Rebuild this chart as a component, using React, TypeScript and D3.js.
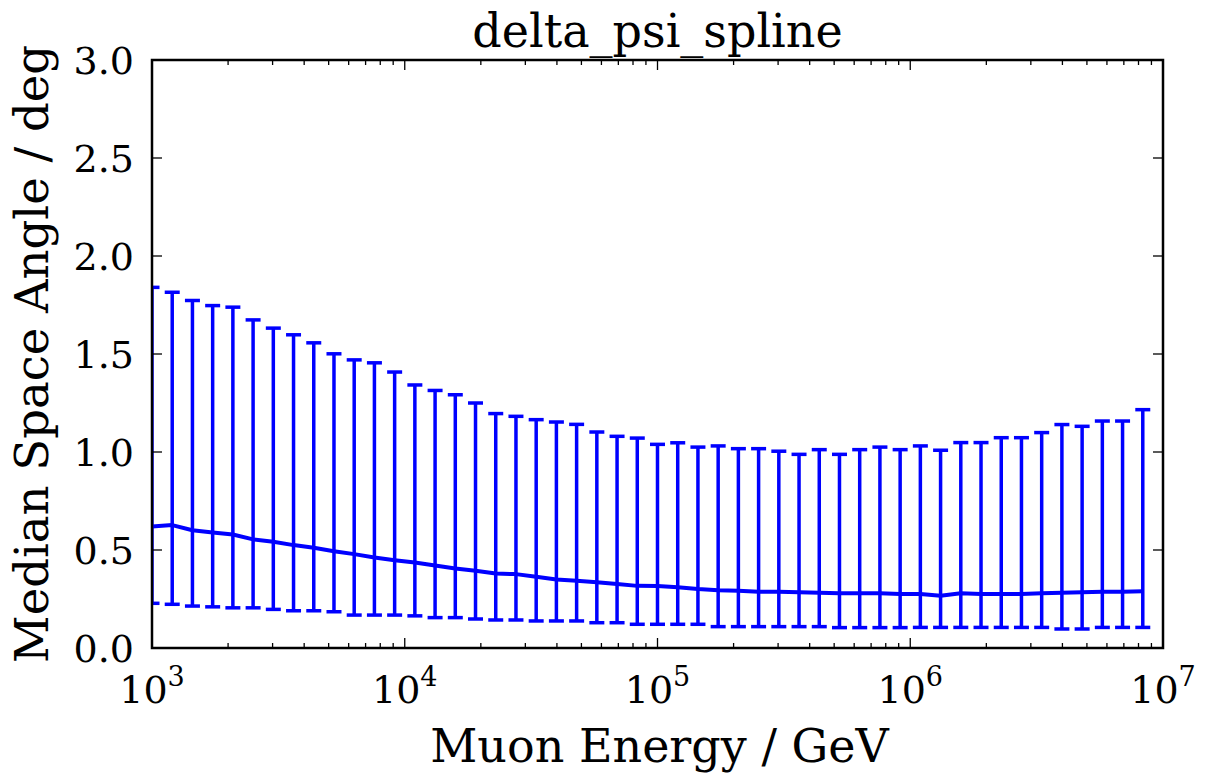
import React from "react";
import * as d3 from "d3";

const logEnergy = [
  3.00, 3.08, 3.16, 3.24, 3.32, 3.40, 3.48, 3.56, 3.64, 3.72,
  3.80, 3.88, 3.96, 4.04, 4.12, 4.20, 4.28, 4.36, 4.44, 4.52,
  4.60, 4.68, 4.76, 4.84, 4.92, 5.00, 5.08, 5.16, 5.24, 5.32,
  5.40, 5.48, 5.56, 5.64, 5.72, 5.80, 5.88, 5.96, 6.04, 6.12,
  6.20, 6.28, 6.36, 6.44, 6.52, 6.60, 6.68, 6.76, 6.84, 6.92,
];

const medianAngle = [
  0.620, 0.627, 0.601, 0.589, 0.579, 0.554, 0.542, 0.525, 0.511, 0.494,
  0.479, 0.462, 0.448, 0.436, 0.421, 0.406, 0.394, 0.380, 0.377, 0.363,
  0.350, 0.343, 0.335, 0.326, 0.317, 0.316, 0.310, 0.301, 0.295, 0.292,
  0.287, 0.287, 0.284, 0.282, 0.279, 0.279, 0.279, 0.275, 0.275, 0.267,
  0.279, 0.275, 0.275, 0.275, 0.279, 0.282, 0.284, 0.287, 0.287, 0.290,
];

const upperAngle = [
  1.840, 1.815, 1.773, 1.747, 1.739, 1.674, 1.632, 1.598, 1.557, 1.501,
  1.470, 1.455, 1.408, 1.342, 1.314, 1.292, 1.250, 1.196, 1.182, 1.165,
  1.153, 1.141, 1.102, 1.080, 1.071, 1.039, 1.047, 1.025, 1.031, 1.017,
  1.017, 1.004, 0.988, 1.012, 0.988, 1.012, 1.025, 1.012, 1.031, 1.009,
  1.048, 1.048, 1.073, 1.073, 1.099, 1.140, 1.131, 1.158, 1.158, 1.216,
];

const lowerAngle = [
  0.228, 0.223, 0.214, 0.210, 0.205, 0.205, 0.197, 0.190, 0.190, 0.185,
  0.168, 0.168, 0.168, 0.164, 0.155, 0.155, 0.148, 0.143, 0.143, 0.138,
  0.138, 0.138, 0.129, 0.129, 0.121, 0.121, 0.121, 0.121, 0.109, 0.109,
  0.109, 0.109, 0.109, 0.109, 0.104, 0.104, 0.104, 0.104, 0.105, 0.105,
  0.105, 0.105, 0.105, 0.105, 0.105, 0.097, 0.097, 0.105, 0.105, 0.105,
];

const yTicks = [0.0, 0.5, 1.0, 1.5, 2.0, 2.5, 3.0];
const xMajorExponents = [3, 4, 5, 6, 7];
const minorMultipliers = [2, 3, 4, 5, 6, 7, 8, 9];

const W = 1205;
const H = 773;
const left = 152;
const right = 1163;
const top = 60;
const bottom = 648;
const FONT = "'DejaVu Serif', serif";
const BLUE = "#0000ff";

export default function App() {
  const x = d3.scaleLog().domain([1e3, 1e7]).range([left, right]);
  const y = d3.scaleLinear().domain([0, 3]).range([bottom, top]);

  const energies = logEnergy.map((l) => Math.pow(10, l));
  const pts = energies.map((e, i) => ({
    e,
    m: medianAngle[i],
    hi: upperAngle[i],
    lo: lowerAngle[i],
  }));

  const line = d3
    .line<{ e: number; m: number }>()
    .x((d) => x(d.e))
    .y((d) => y(d.m));

  const minorTicks: number[] = [];
  for (let k = 3; k < 7; k++) {
    for (const m of minorMultipliers) minorTicks.push(m * Math.pow(10, k));
  }

  const capHalf = 7.5;
  const majorLen = 10;
  const minorLen = 5;

  return (
    <svg
      width={W}
      height={H}
      style={{ position: "absolute", left: 0, top: 0, background: "#fff" }}
    >
      <defs>
        <clipPath id="plotclip">
          <rect x={left} y={top} width={right - left} height={bottom - top} />
        </clipPath>
      </defs>
      <rect x={0} y={0} width={W} height={H} fill="#fff" />

      <g clipPath="url(#plotclip)">
        {pts.map((p, i) => (
          <g key={i} stroke={BLUE} strokeWidth={3.5}>
            <line x1={x(p.e)} x2={x(p.e)} y1={y(p.lo)} y2={y(p.hi)} />
            <line x1={x(p.e) - capHalf} x2={x(p.e) + capHalf} y1={y(p.hi)} y2={y(p.hi)} />
            <line x1={x(p.e) - capHalf} x2={x(p.e) + capHalf} y1={y(p.lo)} y2={y(p.lo)} />
          </g>
        ))}
        <path d={line(pts) || ""} fill="none" stroke={BLUE} strokeWidth={4} strokeLinejoin="round" />
      </g>

      {/* ticks */}
      <g stroke="#000" strokeWidth={1.3}>
        {yTicks.map((t) => (
          <g key={"y" + t}>
            <line x1={left} x2={left + majorLen} y1={y(t)} y2={y(t)} />
            <line x1={right} x2={right - majorLen} y1={y(t)} y2={y(t)} />
          </g>
        ))}
        {xMajorExponents.map((k) => (
          <g key={"x" + k}>
            <line x1={x(Math.pow(10, k))} x2={x(Math.pow(10, k))} y1={bottom} y2={bottom - majorLen} />
            <line x1={x(Math.pow(10, k))} x2={x(Math.pow(10, k))} y1={top} y2={top + majorLen} />
          </g>
        ))}
        {minorTicks.map((v, i) => (
          <g key={"m" + i}>
            <line x1={x(v)} x2={x(v)} y1={bottom} y2={bottom - minorLen} />
            <line x1={x(v)} x2={x(v)} y1={top} y2={top + minorLen} />
          </g>
        ))}
      </g>

      <rect
        x={left}
        y={top}
        width={right - left}
        height={bottom - top}
        fill="none"
        stroke="#000"
        strokeWidth={2.5}
      />

      {/* y tick labels */}
      {yTicks.map((t) => (
        <text
          key={"yl" + t}
          x={134}
          y={y(t)}
          dy="0.36em"
          textAnchor="end"
          fontFamily={FONT}
          fontSize={38}
          fill="#000"
        >
          {t.toFixed(1)}
        </text>
      ))}

      {/* x tick labels */}
      {xMajorExponents.map((k) => (
        <text
          key={"xl" + k}
          x={x(Math.pow(10, k))}
          y={703}
          textAnchor="middle"
          fontFamily={FONT}
          fontSize={38}
          fill="#000"
        >
          10
          <tspan fontSize={27} dy={-17}>
            {k}
          </tspan>
        </text>
      ))}

      <text
        x={(left + right) / 2}
        y={47}
        textAnchor="middle"
        fontFamily={FONT}
        fontSize={46}
        fill="#000"
      >
        delta_psi_spline
      </text>

      <text
        x={(left + right) / 2 + 2}
        y={762}
        textAnchor="middle"
        fontFamily={FONT}
        fontSize={46}
        fill="#000"
      >
        Muon Energy / GeV
      </text>

      <text
        transform={`translate(48, ${(top + bottom) / 2}) rotate(-90)`}
        textAnchor="middle"
        fontFamily={FONT}
        fontSize={46.5}
        fill="#000"
      >
        Median Space Angle / deg
      </text>
    </svg>
  );
}
